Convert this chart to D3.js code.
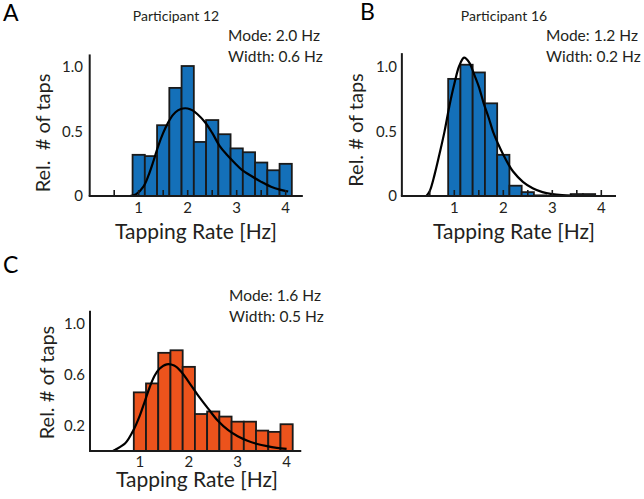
<!DOCTYPE html>
<html><head><meta charset="utf-8">
<script src="https://cdn.jsdelivr.net/npm/d3@7"></script>
<style>
html,body{margin:0;padding:0;background:#fff;}
svg{display:block;font-family:Lato, "Open Sans", sans-serif;}
</style></head>
<body>
<svg id="chart" width="644" height="499"></svg>
<script>
// ---------- data ----------
const binCenters = [1.0, 1.25, 1.5, 1.75, 2.0, 2.25, 2.5, 2.75, 3.0, 3.25, 3.5, 3.75, 4.0];
const p12Counts = [0.32, 0.31, 0.55, 0.84, 1.01, 0.42, 0.59, 0.48, 0.37, 0.34, 0.26, 0.20, 0.25];
const p16Counts = [0.91, 1.02, 0.96, 0.72, 0.32, 0.08, 0.03, 0.005, 0, 0, 0.015, 0.015, 0];
const groupCounts = [0.46, 0.53, 0.77, 0.79, 0.66, 0.29, 0.31, 0.27, 0.23, 0.23, 0.16, 0.15, 0.21];

const p12FitX = [0.82, 0.95, 1.1, 1.2, 1.3, 1.4, 1.5, 1.6, 1.7, 1.8, 1.9, 2.0, 2.1, 2.2, 2.35, 2.5, 2.65, 2.8, 2.95, 3.1, 3.3, 3.5, 3.7, 3.9, 4.05];
const p12FitY = [0.0, 0.015, 0.075, 0.16, 0.27, 0.39, 0.49, 0.57, 0.63, 0.665, 0.68, 0.68, 0.665, 0.635, 0.575, 0.49, 0.39, 0.32, 0.26, 0.205, 0.155, 0.11, 0.072, 0.048, 0.035];

const p16FitX = [0.43, 0.5, 0.6, 0.7, 0.8, 0.9, 1.0, 1.1, 1.2, 1.3, 1.4, 1.5, 1.6, 1.7, 1.8, 1.9, 2.0, 2.1, 2.2, 2.4, 2.6, 2.8, 3.0, 3.2, 3.4];
const p16FitY = [0.0, 0.04, 0.17, 0.33, 0.5, 0.7, 0.87, 1.01, 1.075, 1.04, 0.95, 0.85, 0.72, 0.61, 0.49, 0.4, 0.32, 0.25, 0.19, 0.11, 0.06, 0.03, 0.015, 0.007, 0.003];

const groupFitX = [0.45, 0.5, 0.7, 0.85, 1.0, 1.1, 1.2, 1.3, 1.4, 1.55, 1.7, 1.85, 2.0, 2.2, 2.4, 2.6, 2.8, 3.0, 3.2, 3.4, 3.6, 3.8, 4.0];
const groupFitY = [0.0, 0.01, 0.06, 0.15, 0.28, 0.39, 0.5, 0.59, 0.645, 0.68, 0.67, 0.62, 0.54, 0.43, 0.33, 0.235, 0.165, 0.115, 0.08, 0.055, 0.038, 0.025, 0.016];

const xTickValues = [1, 2, 3, 4];
const xTickLabels = ["1", "2", "3", "4"];
const xMinorTicks = [0.5, 1, 1.5, 2, 2.5, 3, 3.5, 4];
const yTicksAB = [0, 0.5, 1.0];
const yTickLabelsAB = ["0", "0.5", "1.0"];
const yTicksC = [0.2, 0.6, 1.0];
const yTickLabelsC = ["0.2", "0.6", "1.0"];

const panelLetters = ["A", "B", "C"];
const titles = ["Participant 12", "Participant 16", ""];
const modeTexts = ["Mode: 2.0 Hz", "Mode: 1.2 Hz", "Mode: 1.6 Hz"];
const widthTexts = ["Width: 0.6 Hz", "Width: 0.2 Hz", "Width: 0.5 Hz"];
const yLabels = ["Rel.  # of taps", "Rel. # of taps", "Rel. # of taps"];
const xLabel = "Tapping Rate [Hz]";
const binWidth = 0.25;

// ---------- layout ----------
const BLUE = "#1470b9", ORANGE = "#ec531c", INK = "#1a1a1a", TXT = "#231f20";
const panels = [
  {counts: p12Counts, fx: p12FitX, fy: p12FitY, color: BLUE, yT: yTicksAB, yTL: yTickLabelsAB, minor: true,
   x0: 0, x1: 4.35, left: 89.7, pxHz: 49, base: 196, pxUnit: 128.7, yTop: 1.1,
   letter: [3, 21], title: [176, 21], mode: [228, 41, 62], yl: [49.5, 133], ytlx: 83, xtly: 213, xl: [196, 239]},
  {counts: p16Counts, fx: p16FitX, fy: p16FitY, color: BLUE, yT: yTicksAB, yTL: yTickLabelsAB, minor: true,
   x0: -0.07, x1: 4.3, left: 405.3, pxHz: 49, base: 196, pxUnit: 128.7, yTop: 1.11,
   letter: [360, 20], title: [504, 21], mode: [546, 41, 62], yl: [362.5, 130], ytlx: 397, xtly: 213, xl: [514, 239]},
  {counts: groupCounts, fx: groupFitX, fy: groupFitY, color: ORANGE, yT: yTicksC, yTL: yTickLabelsC, minor: false,
   x0: -0.02, x1: 4.3, left: 91, pxHz: 48.9, base: 451, pxUnit: 127.5, yTop: 1.1,
   letter: [3, 273], title: null, mode: [229, 301, 322], yl: [54, 382.5], ytlx: 85, xtly: 467, xl: [197, 487]}
];

const svg = d3.select("#chart");

panels.forEach((p, i) => {
  const x = d3.scaleLinear().domain([0, 1]).range([p.left, p.left + p.pxHz]);
  const y = d3.scaleLinear().domain([0, 1]).range([p.base, p.base - p.pxUnit]);
  const g = svg.append("g");

  // bars
  g.selectAll("rect.bar").data(binCenters.map((c, k) => ({c, v: p.counts[k]})).filter(d => d.v > 0))
    .join("rect")
    .attr("x", d => x(d.c - binWidth / 2))
    .attr("width", d => x(d.c + binWidth / 2) - x(d.c - binWidth / 2))
    .attr("y", d => y(d.v))
    .attr("height", d => y(0) - y(d.v))
    .attr("fill", p.color)
    .attr("stroke", INK)
    .attr("stroke-width", 1.8);

  // fit curve
  const line = d3.line().x(d => x(d[0])).y(d => y(d[1])).curve(d3.curveCatmullRom);
  g.append("path").datum(p.fx.map((v, k) => [v, p.fy[k]]))
    .attr("d", line).attr("fill", "none").attr("stroke", "#000").attr("stroke-width", 2.2);

  // axes lines
  g.append("line").attr("x1", x(p.x0)).attr("x2", x(p.x0)).attr("y1", y(0)).attr("y2", y(p.yTop))
    .attr("stroke", INK).attr("stroke-width", 2);
  g.append("line").attr("x1", x(p.x0) - 1).attr("x2", x(p.x1)).attr("y1", y(0)).attr("y2", y(0))
    .attr("stroke", INK).attr("stroke-width", 2);

  // minor ticks (inward)
  if (p.minor) {
    g.selectAll("line.mt").data(xMinorTicks).join("line")
      .attr("x1", d => x(d)).attr("x2", d => x(d)).attr("y1", y(0)).attr("y2", y(0) - 6)
      .attr("stroke", INK).attr("stroke-width", 1.6);
  }

  // x tick labels
  g.selectAll("text.xt").data(xTickValues).join("text")
    .attr("x", d => x(d)).attr("y", p.xtly).attr("text-anchor", "middle")
    .attr("font-size", 15).attr("fill", TXT).text((d, k) => xTickLabels[k]);

  // y tick labels
  g.selectAll("text.yt").data(p.yT).join("text")
    .attr("x", p.ytlx).attr("y", d => y(d) + 5).attr("text-anchor", "end")
    .attr("font-size", 15).attr("fill", TXT).text((d, k) => p.yTL[k]);

  // axis titles
  g.append("text").attr("transform", `translate(${p.yl[0]},${p.yl[1]}) rotate(-90)`)
    .attr("text-anchor", "middle").attr("font-size", 20).attr("fill", TXT)
    .style("white-space", "pre").text(yLabels[i]);
  g.append("text").attr("x", p.xl[0]).attr("y", p.xl[1]).attr("text-anchor", "middle")
    .attr("font-size", 21).attr("fill", TXT).text(xLabel);

  // annotations
  g.append("text").attr("x", p.letter[0]).attr("y", p.letter[1]).attr("font-size", 23).attr("fill", "#000").text(panelLetters[i]);
  if (p.title) g.append("text").attr("x", p.title[0]).attr("y", p.title[1]).attr("text-anchor", "middle")
    .attr("font-size", 14).attr("fill", TXT).text(titles[i]);
  g.append("text").attr("x", p.mode[0]).attr("y", p.mode[1]).attr("font-size", 15.5).attr("fill", TXT).text(modeTexts[i]);
  g.append("text").attr("x", p.mode[0]).attr("y", p.mode[2]).attr("font-size", 15.5).attr("fill", TXT).text(widthTexts[i]);
});
</script>
</body></html>
